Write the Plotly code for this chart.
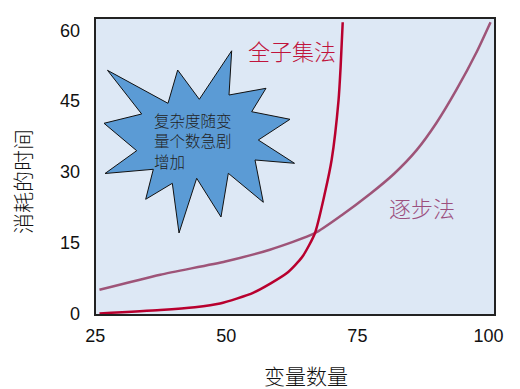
import plotly.graph_objects as go

# ---- data ----
full_x = [25.8, 37.4, 44.0, 48.8, 55.2, 61.5, 64.5, 66.9, 68.8, 70.1, 71.4, 71.8, 72.2]
full_y = [0.0, 0.7, 1.3, 2.1, 4.4, 8.5, 12.0, 17.0, 25.5, 32.6, 45.1, 52.2, 61.7]
step_x = [25.8, 37.4, 49.8, 58.3, 66.9, 72.0, 77.4, 82.0, 86.3, 90.1, 93.9, 97.8, 100.4]
step_y = [5.0, 8.2, 11.0, 13.5, 17.0, 20.8, 25.3, 29.6, 34.6, 40.4, 47.4, 55.5, 61.7]
x_ticks = [25, 50, 75, 100]
y_ticks = [0, 15, 30, 45, 60]
full_name = "全子集法"
step_name = "逐步法"
x_title = "变量数量"
y_title = "消耗的时间"
star_lines = ["复杂度随变", "量个数急剧", "增加"]

# plot area in page pixels (page body has an 8px margin)
OFF = 8
L, T, R, B = 95, 18, 495, 315
W, H = 520 - OFF, 389 - OFF

def px(x, y):
    return (x - L) / (R - L), (B - y) / (B - T)

star_px = [(107.5, 70.3), (168, 103.3), (177.7, 70), (199.3, 99.3), (231.7, 50.8),
           (229, 95), (266, 88.3), (251.7, 111.7), (290, 119.3), (258.3, 140),
           (294.5, 163.3), (255, 160), (263.3, 202.3), (228.3, 173.3), (221, 217),
           (196.7, 178.3), (179, 233), (172.3, 183.3), (145.7, 199.3), (153.3, 169.3),
           (105, 173.5), (136.7, 150.7), (104, 123.3), (141.7, 114)]

path = ""
for i, (a, b) in enumerate(star_px):
    xp, yp = px(a, b)
    path += ("M" if i == 0 else "L") + f"{xp:.4f},{yp:.4f} "
path += "Z"

cjk = "Noto Sans CJK SC"

fig = go.Figure()
fig.add_trace(go.Scatter(x=step_x, y=step_y, mode="lines", name=step_name,
                         line=dict(color="#9e5478", width=2.5, shape="spline", smoothing=0.6)))
fig.add_trace(go.Scatter(x=full_x, y=full_y, mode="lines", name=full_name,
                         line=dict(color="#b8002e", width=2.5, shape="spline", smoothing=0.6)))

fig.add_shape(type="path", path=path, xref="paper", yref="paper",
              fillcolor="#5b9bd5", line=dict(color="#111111", width=1), layer="above")
fig.add_shape(type="rect", xref="paper", yref="paper", x0=0, y0=0, x1=1, y1=1,
              line=dict(color="#222222", width=2), layer="above")

for line, yc in zip(star_lines, [119.5, 140.2, 160.5]):
    ax, ay = px(152, yc)
    fig.add_annotation(x=ax, y=ay, xref="paper", yref="paper", text=line, showarrow=False,
                       xanchor="left", yanchor="middle", align="left",
                       font=dict(family=cjk, size=15.5, color="#222222", weight=300))
ax, ay = px(246, 49.5)
fig.add_annotation(x=ax, y=ay, xref="paper", yref="paper", text=full_name, showarrow=False,
                   xanchor="left", yanchor="middle",
                   font=dict(family=cjk, size=22, color="#c0143c", weight=300))
ax, ay = px(386.7, 206.5)
fig.add_annotation(x=ax, y=ay, xref="paper", yref="paper", text=step_name, showarrow=False,
                   xanchor="left", yanchor="middle",
                   font=dict(family=cjk, size=22, color="#9c4f7e", weight=300))
ax, ay = px(306, 375)
fig.add_annotation(x=ax, y=ay, xref="paper", yref="paper", text=x_title, showarrow=False,
                   xanchor="center", yanchor="middle",
                   font=dict(family=cjk, size=21, color="#111111", weight=300))
ax, ay = px(22, 182)
fig.add_annotation(x=ax, y=ay, xref="paper", yref="paper", text=y_title, showarrow=False,
                   xanchor="center", yanchor="middle", textangle=-90,
                   font=dict(family=cjk, size=21, color="#111111", weight=300))

fig.update_layout(
    width=W, height=H,
    margin=dict(l=L - OFF, r=W - (R - OFF), t=T - OFF, b=H - (B - OFF)),
    paper_bgcolor="white", plot_bgcolor="#dde8f5",
    showlegend=False,
    font=dict(family="Liberation Sans, Arial", size=18, color="#111111"),
)
fig.update_xaxes(range=[24.95, 101.25], tickvals=x_ticks, showgrid=False, zeroline=False,
                 showline=False, ticks="", ticklabelstandoff=8,
                 tickfont=dict(family="Liberation Sans, Arial", size=18, color="#111111"))
fig.update_yaxes(range=[-0.34, 62.6], tickvals=y_ticks, showgrid=False, zeroline=False,
                 showline=False, ticks="", ticklabelstandoff=14,
                 tickfont=dict(family="Liberation Sans, Arial", size=18, color="#111111"))

fig.write_html("out.html")
